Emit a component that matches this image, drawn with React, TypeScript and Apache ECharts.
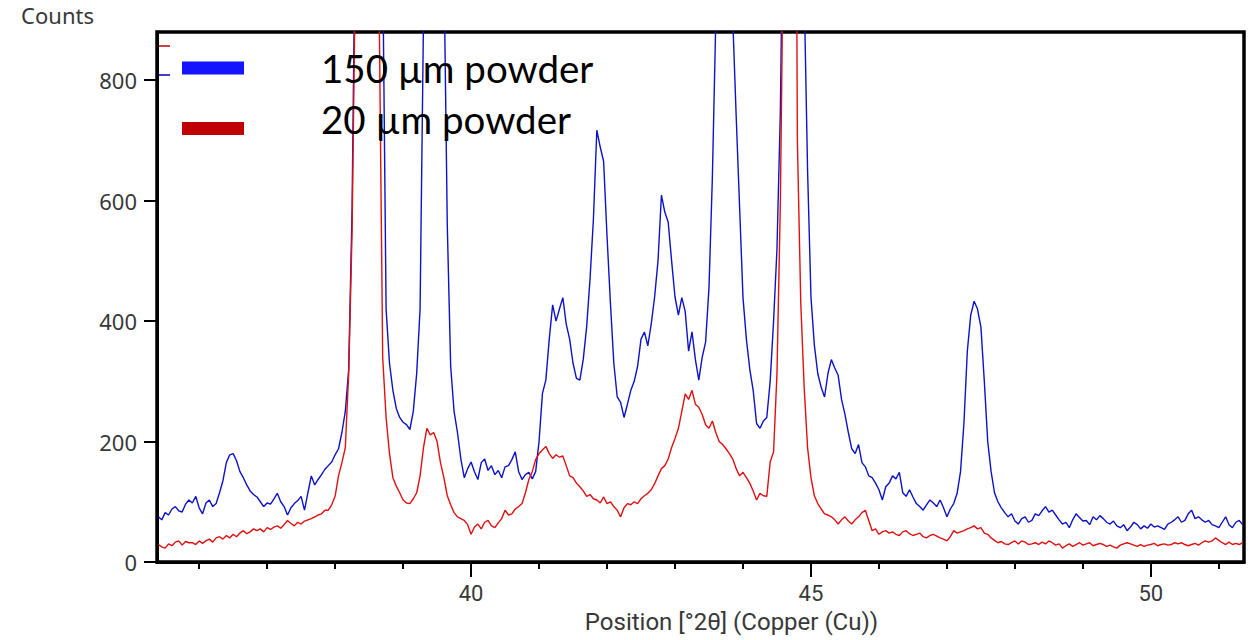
import React, { useEffect, useRef } from "react";
import * as echarts from "echarts";

// 2θ grid of the digitised scans (start and step, degrees)
const THETA_START = 35.4;
const THETA_STEP = 0.05;

// Axis ranges and ticks
const X_MIN = 35.38;
const X_MAX = 51.37;
const Y_MIN = 0;
const Y_MAX = 880;
const xMajorTicks = [40, 45, 50];
const xMinorTicks = [36, 37, 38, 39, 41, 42, 43, 44, 46, 47, 48, 49, 51];
const yTicks = [0, 200, 400, 600, 800];

const seriesNames = ["150 µm powder", "20 µm powder"];

// Counts, one value every 0.05° from 35.40° to 51.35°
const counts150 = [
  75, 70, 82, 78, 88, 92, 85, 83, 96, 103,
  98, 109, 90, 80, 98, 103, 92, 97, 115, 135,
  165, 178, 180, 168, 150, 140, 128, 118, 112, 108,
  100, 92, 98, 96, 105, 114, 100, 92, 78, 90,
  97, 102, 109, 86, 115, 143, 128, 137, 145, 154,
  160, 166, 178, 188, 215, 250, 320, 590, 1100, 2000,
  2600, 3000, 2800, 2200, 1600, 1200, 1000, 420, 330, 285,
  255, 240, 232, 228, 220, 250, 313, 420, 900, 1500,
  2200, 2600, 2300, 1600, 1000, 560, 325, 250, 215, 171,
  140, 155, 166, 150, 137, 165, 171, 152, 160, 145,
  152, 140, 158, 160, 170, 183, 150, 137, 145, 149,
  138, 150, 200, 280, 302, 370, 427, 400, 420, 439,
  395, 370, 330, 305, 302, 336, 390, 470, 570, 717,
  689, 665, 541, 430, 330, 274, 265, 240, 262, 285,
  300, 325, 370, 382, 359, 395, 440, 500, 609, 581,
  564, 500, 440, 410, 439, 416, 350, 382, 336, 302,
  340, 365, 456, 640, 900, 1500, 2000, 2000, 1500, 900,
  740, 590, 439, 370, 320, 285, 230, 222, 234, 240,
  300, 400, 520, 750, 1200, 2000, 3000, 3200, 2500, 1600,
  950, 650, 440, 360, 313, 290, 274, 313, 336, 322,
  310, 270, 245, 215, 188, 180, 195, 165, 158, 143,
  140, 131, 120, 103, 125, 131, 143, 138, 149, 115,
  109, 120, 108, 97, 92, 86, 95, 103, 98, 92,
  103, 90, 75, 88, 97, 114, 150, 230, 350, 410,
  433, 420, 390, 300, 200, 150, 115, 100, 90, 82,
  75, 80, 68, 63, 72, 75, 66, 69, 80, 77,
  85, 92, 83, 86, 78, 70, 63, 66, 57, 70,
  80, 74, 68, 69, 62, 75, 70, 77, 72, 66,
  63, 68, 60, 57, 62, 52, 58, 66, 62, 55,
  60, 56, 63, 58, 60, 57, 54, 63, 66, 70,
  75, 66, 69, 80, 86, 72, 75, 70, 66, 69,
  62, 60, 57, 66, 75, 62, 57, 66, 69, 62,
];

const counts20 = [
  29, 25, 23, 30, 27, 33, 35, 28, 34, 32,
  32, 29, 35, 31, 35, 38, 33, 40, 42, 38,
  44, 40, 46, 42, 48, 52, 47, 50, 55, 52,
  55, 50, 57, 54, 58, 60, 56, 62, 69, 64,
  60, 66, 63, 68, 70, 72, 75, 78, 80, 86,
  86, 95, 109, 143, 165, 190, 313, 550, 1000, 1600,
  2200, 2600, 2500, 2000, 1400, 900, 340, 240, 180, 140,
  126, 115, 103, 98, 97, 105, 115, 143, 190, 222,
  211, 215, 200, 165, 140, 110, 95, 82, 75, 72,
  69, 62, 46, 58, 63, 55, 66, 69, 60, 57,
  65, 72, 86, 78, 80, 88, 92, 97, 115, 137,
  150, 170, 180, 186, 192, 180, 172, 178, 174, 176,
  160, 143, 140, 131, 125, 118, 109, 112, 105, 103,
  98, 108, 97, 100, 92, 86, 75, 90, 97, 95,
  100, 97, 105, 110, 114, 120, 130, 143, 155, 160,
  171, 190, 205, 222, 250, 279, 270, 285, 262, 257,
  245, 228, 222, 234, 215, 200, 195, 188, 180, 171,
  155, 143, 149, 140, 131, 118, 103, 114, 110, 109,
  166, 183, 313, 598, 1100, 2000, 2600, 2000, 700, 430,
  290, 190, 140, 110, 97, 88, 80, 78, 75, 70,
  63, 70, 75, 68, 63, 70, 75, 82, 86, 69,
  52, 55, 46, 50, 52, 48, 50, 46, 44, 50,
  52, 47, 44, 46, 48, 42, 40, 44, 46, 43,
  40, 38, 35, 42, 52, 48, 50, 52, 55, 57,
  60, 55, 57, 48, 46, 40, 36, 32, 34, 30,
  29, 32, 35, 30, 35, 33, 29, 30, 32, 29,
  33, 30, 35, 32, 28, 30, 23, 27, 30, 26,
  29, 32, 28, 30, 32, 27, 29, 31, 29, 26,
  28, 25, 23, 28, 30, 32, 30, 28, 26, 29,
  26, 28, 29, 31, 27, 29, 30, 28, 29, 32,
  30, 32, 29, 27, 29, 31, 28, 32, 35, 33,
  35, 40, 36, 32, 29, 33, 29, 31, 29, 32,
];

const LINE_COLORS = ["#0c12c8", "#e01010"];
const LEGEND_COLORS = ["#1414ff", "#c00000"];

const toPairs = (vals: number[]) =>
  vals.map((v, i) => [Number((THETA_START + i * THETA_STEP).toFixed(2)), v]);

export default function App() {
  const ref = useRef<HTMLDivElement>(null);

  useEffect(() => {
    if (!ref.current) return;
    const chart = echarts.init(ref.current, null, { renderer: "svg" });
    const labelFont = "'Noto Sans', 'Open Sans', sans-serif";
    const xFont = "Roboto, 'Noto Sans', sans-serif";
    const legendFont = "Lato, 'Open Sans', sans-serif";
    const labelColor = "#383838";
    const option: any = {
      animation: false,
      backgroundColor: "#ffffff",
      grid: {
        left: 157,
        right: 14,
        top: 32,
        bottom: 77,
        show: true,
        borderColor: "#000",
        borderWidth: 3.5,
        backgroundColor: "transparent",
      },
      legend: {
        orient: "vertical",
        left: 182,
        top: 48,
        padding: 0,
        icon: "rect",
        itemWidth: 62,
        itemHeight: 13,
        itemGap: 11,
        selectedMode: false,
        formatter: (name: string) =>
          name === seriesNames[1] ? `{up|${name}}` : `{n|${name}}`,
        textStyle: {
          fontFamily: legendFont,
          fontSize: 38.5,
          color: "#000",
          lineHeight: 40,
          rich: {
            n: {
              fontFamily: legendFont,
              fontSize: 38.5,
              color: "#000",
              lineHeight: 40,
              padding: [0, 0, 0, 72],
            },
            up: {
              fontFamily: legendFont,
              fontSize: 38.5,
              color: "#000",
              lineHeight: 40,
              padding: [0, 0, 20, 72],
            },
          },
        },
        data: seriesNames.map((n, i) => ({
          name: n,
          itemStyle: { color: LEGEND_COLORS[i] },
        })),
      },
      xAxis: [
        {
          type: "value",
          min: X_MIN,
          max: X_MAX,
          position: "bottom",
          name: "Position [°2θ] (Copper (Cu))",
          nameLocation: "middle",
          nameGap: 47,
          nameTextStyle: {
            fontFamily: xFont,
            fontSize: 24,
            lineHeight: 26,
            color: labelColor,
            padding: [0, 0, 0, 62],
          },
          axisLine: { show: true, lineStyle: { color: "#000", width: 3 } },
          axisTick: {
            show: true,
            customValues: xMajorTicks,
            length: 15,
            lineStyle: { color: "#000", width: 2 },
          },
          axisLabel: {
            customValues: xMajorTicks,
            margin: 20,
            fontFamily: xFont,
            fontSize: 22,
            lineHeight: 22,
            color: labelColor,
          },
          splitLine: { show: false },
        },
        {
          type: "value",
          min: X_MIN,
          max: X_MAX,
          position: "bottom",
          axisLine: { show: false },
          axisTick: {
            show: true,
            customValues: xMinorTicks,
            length: 7,
            lineStyle: { color: "#000", width: 2 },
          },
          axisLabel: { show: false },
          splitLine: { show: false },
        },
      ],
      yAxis: {
        type: "value",
        min: Y_MIN,
        max: Y_MAX,
        name: "Counts",
        nameLocation: "end",
        nameGap: 6,
        nameTextStyle: {
          fontFamily: labelFont,
          fontSize: 22,
          color: labelColor,
          align: "right",
          padding: [0, 63, 0, 0],
        },
        axisLine: { show: true, lineStyle: { color: "#000", width: 3 } },
        axisTick: {
          show: true,
          customValues: yTicks,
          length: 13,
          lineStyle: { color: "#000", width: 2 },
        },
        axisLabel: {
          customValues: yTicks,
          margin: 20,
          fontFamily: labelFont,
          fontSize: 22,
          color: labelColor,
        },
        splitLine: { show: false },
      },
      graphic: [
        {
          type: "line",
          shape: { x1: 159, y1: 46, x2: 170, y2: 46 },
          style: { stroke: "#c00000", lineWidth: 1.5 },
          z: 100,
        },
        {
          type: "line",
          shape: { x1: 159, y1: 75, x2: 170, y2: 75 },
          style: { stroke: "#0000c0", lineWidth: 1.5 },
          z: 100,
        },
      ],
      series: [
        {
          name: seriesNames[0],
          type: "line",
          xAxisIndex: 0,
          data: toPairs(counts150),
          showSymbol: false,
          symbol: "none",
          clip: true,
          itemStyle: { color: LINE_COLORS[0] },
          lineStyle: { color: LINE_COLORS[0], width: 1.4 },
        },
        {
          name: seriesNames[1],
          type: "line",
          xAxisIndex: 0,
          data: toPairs(counts20),
          showSymbol: false,
          symbol: "none",
          clip: true,
          itemStyle: { color: LINE_COLORS[1] },
          lineStyle: { color: LINE_COLORS[1], width: 1.4 },
        },
      ],
    };
    chart.setOption(option);
    return () => chart.dispose();
  }, []);

  return (
    <div
      ref={ref}
      style={{
        position: "fixed",
        left: 0,
        top: 0,
        width: 1258,
        height: 640,
        background: "#fff",
      }}
    />
  );
}
